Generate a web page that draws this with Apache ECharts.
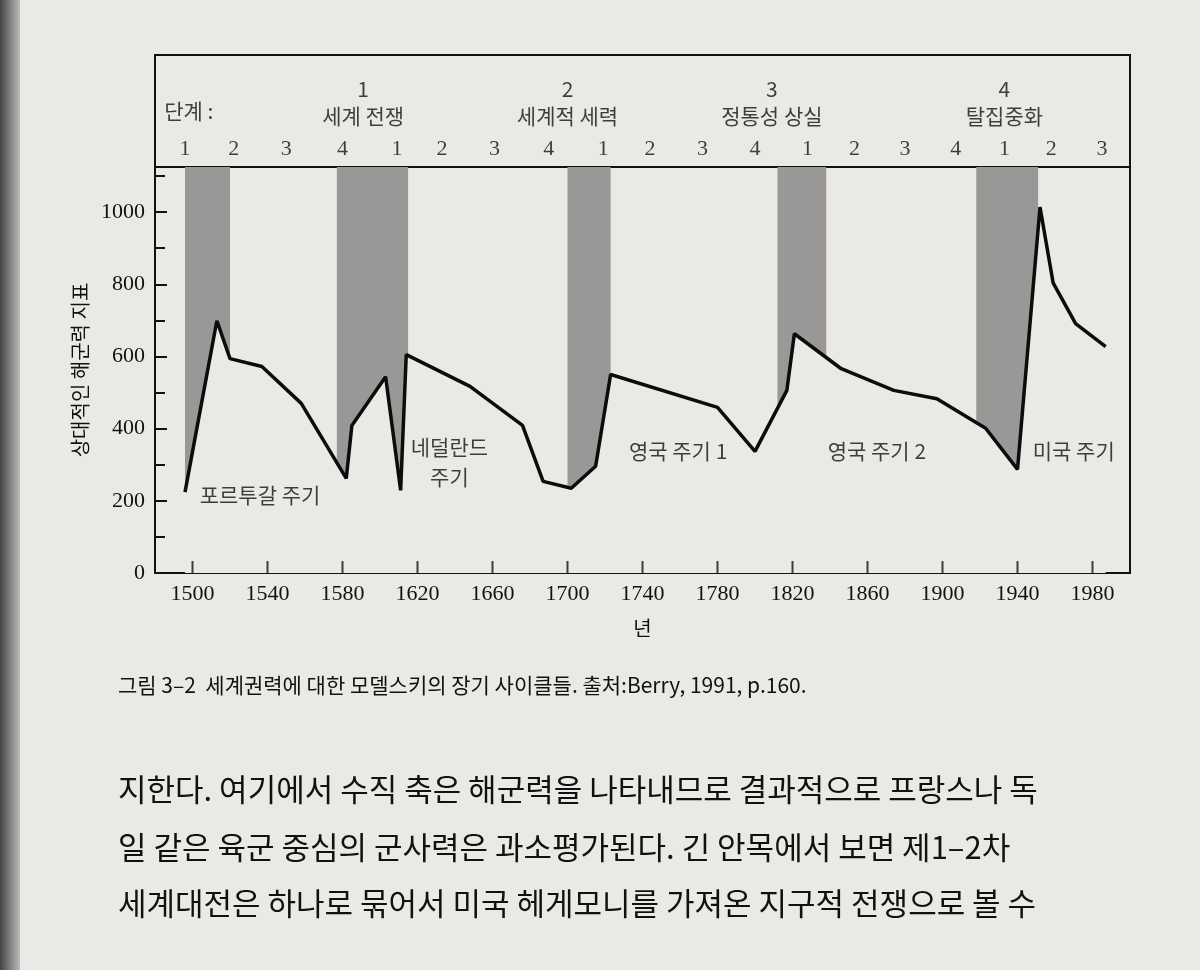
<!DOCTYPE html>
<html><head><meta charset="utf-8">
<script src="https://cdn.jsdelivr.net/npm/echarts@6/dist/echarts.min.js"></script>
<style>html,body{margin:0;padding:0;background:#ebe9e6}#c{width:1200px;height:970px}</style>
</head><body><div id="c"></div>
<script>
// 해군력 지표 (Berry 1991)
const years = [1496,1513,1520,1537,1558,1582,1585,1603,1611,1614,1648,1676,1687,1702,1715,1723,1780,1800,1817,1821,1846,1874,1897,1923,1940,1952,1959,1971,1987];
const power = [224,699,594,572,470,262,409,544,229,605,517,409,254,235,296,550,459,337,506,663,566,506,483,401,287,1014,804,691,627];
// 음영 구간 (세계 전쟁 단계)
const bands = [[1496,1520],[1577,1615],[1700,1723],[1812,1838],[1918,1951]];
const xTicks = [1500,1540,1580,1620,1660,1700,1740,1780,1820,1860,1900,1940,1980];
// 단계 번호
const stageYears = [1496,1522,1550,1580,1609,1633,1661,1690,1719,1744,1772,1800,1828,1853,1880,1907,1933,1958,1985];
const stageNums = ['1','2','3','4','1','2','3','4','1','2','3','4','1','2','3','4','1','2','3'];
const phaseYears = [1591,1700,1809,1933];
const phaseNames = ['1\n세계 전쟁','2\n세계적 세력','3\n정통성 상실','4\n탈집중화'];
const cycleYears = [1536,1637,1759,1865,1970];
const cycleVals = [215,307,337,337,337];
const cycleNames = ['포르투갈 주기','네덜란드\n주기','영국 주기 1','영국 주기 2','미국 주기'];

const bg = '#ebe9e6';
const serif = '"Liberation Serif","Noto Sans CJK KR",serif';
const kr = '"Noto Sans CJK KR",sans-serif';

const chart = echarts.init(document.getElementById('c'));
chart.setOption({
  backgroundColor: bg,
  animation: false,
  grid: [
    {left:155, right:70, top:167, bottom:397, show:true, borderColor:'#111', borderWidth:2, backgroundColor:'transparent'},
    {left:155, right:70, top:55, height:112, show:true, borderColor:'#111', borderWidth:2, backgroundColor:'transparent'}
  ],
  xAxis: [{
    type:'value', min:1480, max:2000, gridIndex:0,
    name:'년', nameLocation:'middle', nameGap:45,
    nameTextStyle:{fontFamily:kr, fontSize:20, color:'#111'},
    axisLine:{lineStyle:{color:'#111', width:2}},
    axisTick:{show:false},
    axisLabel:{customValues:xTicks, formatter:v => String(v), fontFamily:serif, fontSize:22, color:'#111', margin:10},
    splitLine:{show:false}
  },{
    type:'value', min:1480, max:2000, gridIndex:1, show:false
  }],
  yAxis: [{
    type:'value', min:0, max:1125, interval:200, gridIndex:0,
    name:'상대적인 해군력 지표', nameLocation:'middle', nameGap:62, nameRotate:90,
    nameTextStyle:{fontFamily:kr, fontSize:20, color:'#111'},
    axisLine:{show:true, lineStyle:{color:'#111', width:2}},
    axisTick:{show:true, inside:true, length:12, lineStyle:{color:'#111', width:2}},
    minorTick:{show:true, splitNumber:2, length:10, lineStyle:{color:'#111', width:2}},
    axisLabel:{formatter:v => String(v), fontFamily:serif, fontSize:22, color:'#111', showMaxLabel:false, margin:10},
    splitLine:{show:false}
  },{
    type:'value', min:0, max:1, gridIndex:1, show:false
  }],
  series: [
    {
      type:'line', data:[], z:1,
      markArea:{silent:true, itemStyle:{color:'#9a9896'},
        data: bands.map(b => [{xAxis:b[0]}, {xAxis:b[1]}])}
    },
    {
      type:'line', z:3, symbol:'none',
      data: years.map((y,i) => [y, power[i]]),
      lineStyle:{color:'#0c0c0c', width:3.5},
      areaStyle:{color:bg, opacity:1, origin:'start'}
    },
    {
      // x 눈금 (안쪽)
      type:'scatter', z:5, symbol:'rect', symbolSize:[2,12], symbolOffset:[0,-6], silent:true,
      itemStyle:{color:'#111'},
      data: xTicks.map(t => [t, 0])
    },
    {
      type:'scatter', z:4, symbolSize:0,
      data: cycleYears.map((y,i) => [y, cycleVals[i]]),
      label:{show:true, position:'inside', formatter:p => cycleNames[p.dataIndex],
        fontFamily:kr, fontSize:21, color:'#111', lineHeight:30}
    },
    {
      type:'scatter', xAxisIndex:1, yAxisIndex:1, symbolSize:0,
      data: stageYears.map(y => [y, 0.16]),
      label:{show:true, position:'inside', formatter:p => stageNums[p.dataIndex],
        fontFamily:serif, fontSize:22, color:'#111'}
    },
    {
      type:'scatter', xAxisIndex:1, yAxisIndex:1, symbolSize:0,
      data: phaseYears.map(y => [y, 0.58]),
      label:{show:true, position:'inside', formatter:p => phaseNames[p.dataIndex],
        fontFamily:kr, fontSize:21, color:'#111', lineHeight:27}
    },
    {
      type:'scatter', xAxisIndex:1, yAxisIndex:1, symbolSize:0,
      data: [[1498, 0.5]],
      label:{show:true, position:'inside', formatter:'단계 :', fontFamily:kr, fontSize:21, color:'#111'}
    }
  ],
  graphic: [
    {type:'rect', left:0, top:0, shape:{width:20, height:970},
      style:{fill:new echarts.graphic.LinearGradient(0,0,1,0,[{offset:0,color:'#444'},{offset:1,color:'#bbb'}])}},
    {type:'text', left:118, top:675, style:{text:'그림 3–2  세계권력에 대한 모델스키의 장기 사이클들. 출처:Berry, 1991, p.160.',
      font:'21px "Noto Sans CJK KR"', fill:'#111'}},
    {type:'text', left:118, top:774, style:{text:'지한다. 여기에서 수직 축은 해군력을 나타내므로 결과적으로 프랑스나 독',
      font:'31px "Noto Sans CJK KR"', fill:'#111'}},
    {type:'text', left:118, top:832, style:{text:'일 같은 육군 중심의 군사력은 과소평가된다. 긴 안목에서 보면 제1–2차',
      font:'31px "Noto Sans CJK KR"', fill:'#111'}},
    {type:'text', left:118, top:888, style:{text:'세계대전은 하나로 묶어서 미국 헤게모니를 가져온 지구적 전쟁으로 볼 수',
      font:'31px "Noto Sans CJK KR"', fill:'#111'}}
  ]
});
</script></body></html>
